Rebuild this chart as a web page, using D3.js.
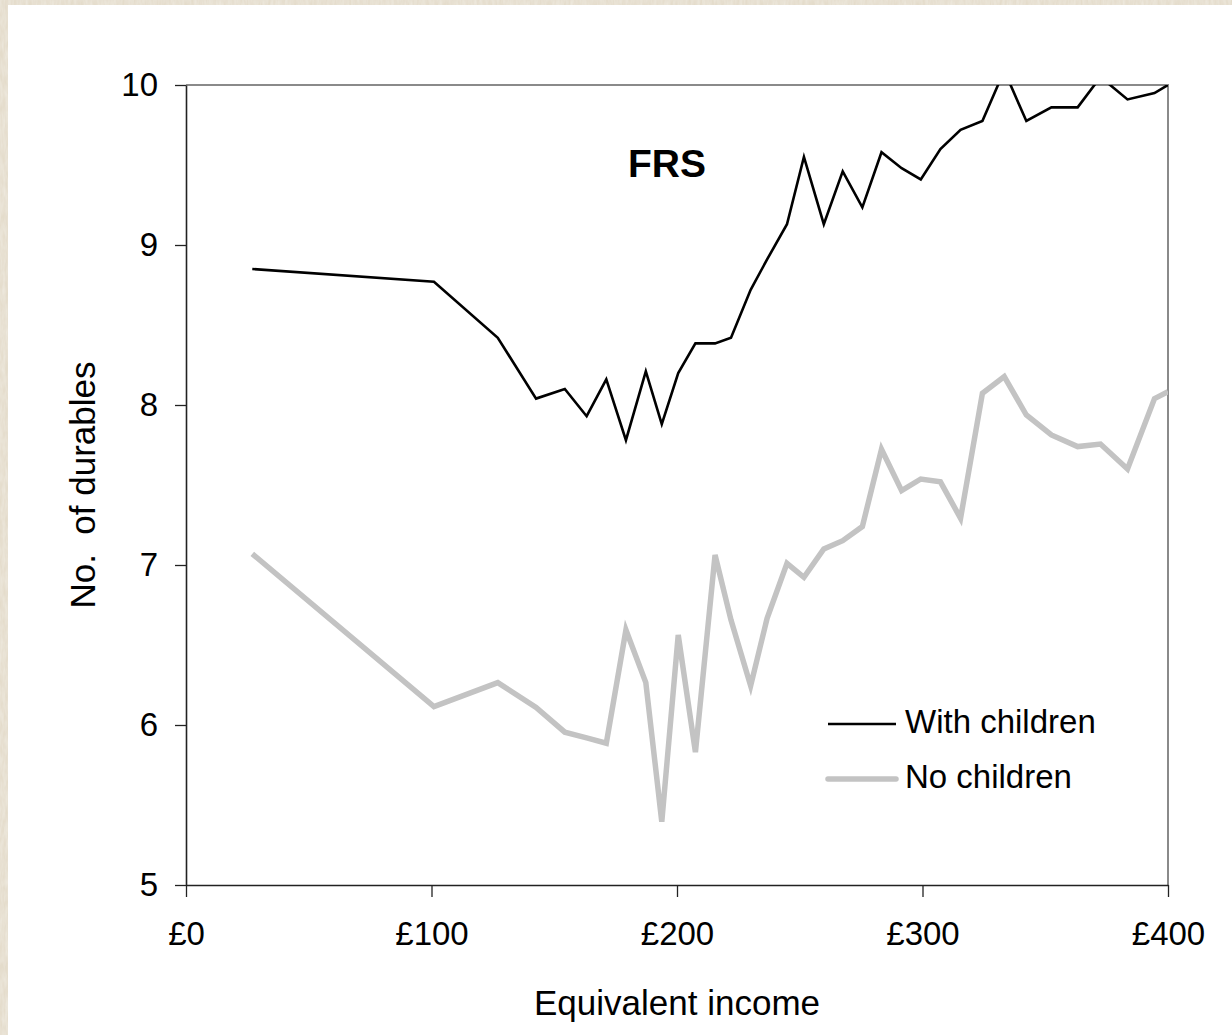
<!DOCTYPE html>
<html>
<head>
<meta charset="utf-8">
<script src="https://cdn.jsdelivr.net/npm/d3@7"></script>
<style>
  html, body { margin: 0; padding: 0; background: #e4dccb; }
  svg { display: block; }
  text { font-family: "Liberation Sans", Arial, sans-serif; fill: #000; }
</style>
</head>
<body>
<svg id="chart" width="1232" height="1035"></svg>
<script>
// Equivalent income bands (£ per week)
const income = [27, 101, 127, 142.6, 154.3, 163.2, 171.2, 179.2, 187.3, 193.8,
  200.5, 207.5, 215.5, 222, 230, 236.7, 244.8, 251.7, 259.8, 267.5,
  275.5, 283.3, 291.5, 299.3, 307.3, 315.5, 324.4, 333.3, 342.3, 352.5,
  363.2, 372.5, 383.5, 394.5, 400];

// Average number of consumer durables owned
const withChildren = [8.85, 8.77, 8.42, 8.04, 8.10, 7.93, 8.16, 7.78, 8.21, 7.88,
  8.20, 8.385, 8.385, 8.42, 8.72, 8.91, 9.13, 9.55, 9.13, 9.46,
  9.235, 9.58, 9.48, 9.41, 9.60, 9.72, 9.775, 10.09, 9.775, 9.86,
  9.86, 10.05, 9.91, 9.95, 10.0];

const noChildren = [7.07, 6.115, 6.265, 6.11, 5.955, 5.92, 5.886, 6.594, 6.265, 5.396,
  6.5625, 5.83, 7.0625, 6.656, 6.245, 6.667, 7.01, 6.923, 7.10, 7.152,
  7.24, 7.723, 7.465, 7.5375, 7.52, 7.292, 8.073, 8.177, 7.9375, 7.8125,
  7.74, 7.756, 7.60, 8.04, 8.083];

const xTicks = [0, 100, 200, 300, 400];
const yTicks = [5, 6, 7, 8, 9, 10];

const seriesNames = ["With children", "No children"];
const seriesColors = ["#000000", "#c3c3c3"];
const seriesWidths = [2.6, 5.5];

const svg = d3.select("#chart");

// parchment texture for the frame
const defs = svg.append("defs");
const tex = defs.append("filter").attr("id", "paper").attr("x", 0).attr("y", 0)
  .attr("width", "100%").attr("height", "100%");
tex.append("feTurbulence").attr("type", "fractalNoise").attr("baseFrequency", "0.35 0.08")
  .attr("numOctaves", 3).attr("seed", 4).attr("result", "noise");
tex.append("feColorMatrix").attr("in", "noise").attr("type", "matrix")
  .attr("values", "0 0 0 0 0.89  0 0 0 0 0.86  0 0 0 0 0.80  0.9 0 0 0 -0.2")
  .attr("result", "tint");
tex.append("feFlood").attr("flood-color", "#e4dccb").attr("result", "base");
tex.append("feComposite").attr("in", "tint").attr("in2", "base").attr("operator", "over");

svg.append("rect").attr("width", 1232).attr("height", 1035).attr("fill", "#e4dccb")
  .attr("filter", "url(#paper)");

// white chart area
svg.append("rect").attr("x", 8).attr("y", 5).attr("width", 1232 - 8).attr("height", 1035 - 5)
  .attr("fill", "#fff");

const plot = { left: 186, right: 1168, top: 85, bottom: 885 };

const x = d3.scaleLinear().domain([0, 400]).range([plot.left, plot.right]);
const y = d3.scaleLinear().domain([5, 10]).range([plot.bottom, plot.top]);

defs.append("clipPath").attr("id", "plotClip").append("rect")
  .attr("x", plot.left).attr("y", plot.top)
  .attr("width", plot.right - plot.left).attr("height", plot.bottom - plot.top);

// plot frame: grey on top and right
svg.append("path")
  .attr("d", `M${plot.left},${plot.top}H${plot.right}V${plot.bottom}`)
  .attr("fill", "none").attr("stroke", "#8a8a8a").attr("stroke-width", 2);

// series lines
const line = d3.line().x((d, i) => x(income[i])).y(d => y(d));
const seriesData = [withChildren, noChildren];
const linesG = svg.append("g").attr("clip-path", "url(#plotClip)");
// draw the grey series first so the black one sits on top
[1, 0].forEach(k => {
  linesG.append("path")
    .datum(seriesData[k])
    .attr("d", line)
    .attr("fill", "none")
    .attr("stroke", seriesColors[k])
    .attr("stroke-width", seriesWidths[k])
    .attr("stroke-linejoin", "miter")
    .attr("stroke-linecap", "butt");
});

// axes
const fmtPound = d => "£" + d;
const xAxis = d3.axisBottom(x).tickValues(xTicks).tickFormat(fmtPound)
  .tickSizeInner(12).tickSizeOuter(0).tickPadding(25);
const yAxis = d3.axisLeft(y).tickValues(yTicks).tickFormat(d3.format("d"))
  .tickSizeInner(11).tickSizeOuter(0).tickPadding(17);

const gx = svg.append("g").attr("transform", `translate(0,${plot.bottom})`).call(xAxis);
const gy = svg.append("g").attr("transform", `translate(${plot.left},0)`).call(yAxis);

[gx, gy].forEach(g => {
  g.select(".domain").attr("stroke", "#222").attr("stroke-width", 1.6);
  g.selectAll(".tick line").attr("stroke", "#222").attr("stroke-width", 1.3);
  g.selectAll(".tick text").attr("font-size", 33).attr("fill", "#000")
    .attr("font-family", "'Liberation Sans', Arial, sans-serif");
});

// axis titles
svg.append("text")
  .attr("x", (plot.left + plot.right) / 2).attr("y", 1015)
  .attr("text-anchor", "middle").attr("font-size", 35)
  .text("Equivalent income");

svg.append("text")
  .attr("transform", `translate(95,${(plot.top + plot.bottom) / 2}) rotate(-90)`)
  .attr("text-anchor", "middle").attr("font-size", 35)
  .attr("xml:space", "preserve")
  .text("No.  of durables");

// survey label
svg.append("text")
  .attr("x", 667).attr("y", 177)
  .attr("text-anchor", "middle").attr("font-size", 39).attr("font-weight", "bold")
  .text("FRS");

// legend
const legend = svg.append("g");
seriesNames.forEach((name, k) => {
  const ly = 724 + k * 55;
  legend.append("line")
    .attr("x1", 828).attr("x2", 896).attr("y1", ly).attr("y2", ly)
    .attr("stroke", seriesColors[k]).attr("stroke-width", seriesWidths[k])
    .attr("stroke-linecap", k === 1 ? "round" : "butt");
  legend.append("text")
    .attr("x", 905).attr("y", ly + 9)
    .attr("font-size", 33)
    .text(name);
});
</script>
</body>
</html>
